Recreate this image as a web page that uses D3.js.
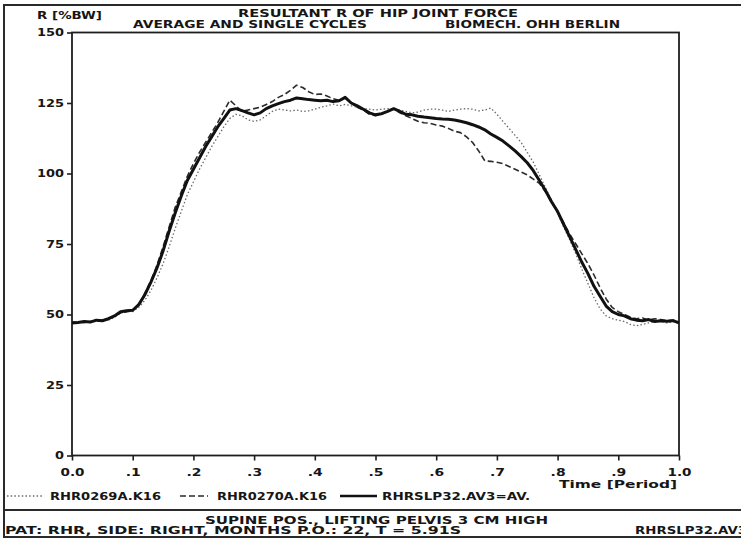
<!DOCTYPE html>
<html>
<head>
<meta charset="utf-8">
<script src="https://cdn.jsdelivr.net/npm/d3@7"></script>
<style>
    html, body { margin: 0; padding: 0; background: #fff; }
    svg { display: block; }
    text { font-family: "DejaVu Sans", sans-serif; font-weight: bold; fill: #161616; }
</style>
</head>
<body>
<svg id="chart" width="741" height="539"></svg>
<script>
// Tick values and labels
const xTicks = [0, 0.1, 0.2, 0.3, 0.4, 0.5, 0.6, 0.7, 0.8, 0.9, 1.0];
const xTickLabels = ['0.0', '.1', '.2', '.3', '.4', '.5', '.6', '.7', '.8', '.9', '1.0'];
const yTicks = [0, 25, 50, 75, 100, 125, 150];

// Time grid (fraction of the period), one value every 0.01
const time = d3.range(0, 101).map(i => i / 100);

// Single cycle RHR0269A.K16 (dotted)
const rhr0269 = [
    47.2, 47.5, 47.0, 47.5, 47.5, 48.0, 48.0, 49.0, 50.5, 51.0,
    51.0, 52.5, 55.0, 58.5, 63.0, 68.0, 74.0, 80.5, 86.5, 92.5,
    97.0, 101.5, 105.5, 109.5, 113.0, 116.5, 119.5, 121.0, 120.5, 119.0,
    118.5, 119.0, 120.5, 122.0, 122.8, 122.5, 122.2, 122.5, 122.0, 122.2,
    122.8, 123.5, 124.0, 124.6, 124.0, 124.5, 124.0, 123.5, 123.0, 122.8,
    122.5, 122.8, 123.0, 122.8, 122.5, 122.0, 121.5, 121.8, 122.5, 122.8,
    122.8, 122.5, 122.0, 122.5, 122.8, 123.0, 122.8, 122.2, 122.5, 123.2,
    121.0, 118.5, 116.0, 113.5, 111.0, 107.5, 104.0, 99.5, 95.0, 90.5,
    86.0, 81.0, 76.5, 71.5, 66.0, 61.0, 56.0, 52.0, 49.5, 48.5,
    48.0, 47.5, 46.5, 46.0, 46.5, 47.0, 47.5, 47.5, 47.0, 47.5,
    47.2
];

// Single cycle RHR0270A.K16 (dashed)
const rhr0270 = [
    47.5, 47.0, 47.3, 47.5, 47.8, 48.0, 48.3, 49.5, 50.5, 51.0,
    51.5, 53.5, 57.5, 62.0, 67.5, 74.0, 81.0, 88.0, 93.5, 99.0,
    103.5, 107.5, 111.0, 114.5, 118.0, 122.0, 126.0, 124.0, 122.0, 122.5,
    123.0, 123.5, 124.5, 125.5, 127.0, 128.0, 129.5, 131.3, 130.5, 129.0,
    128.0, 128.2, 127.5, 126.5, 126.0, 126.8, 125.0, 123.5, 122.5, 121.0,
    120.5, 121.0, 122.0, 123.0, 121.5, 120.5, 119.5, 118.5, 118.0, 117.8,
    117.2, 116.8, 116.0, 115.0, 114.5, 113.0, 111.0, 108.0, 104.5, 104.3,
    104.0, 103.5, 102.5, 101.5, 100.5, 99.5, 98.0, 96.5, 93.5, 90.0,
    86.5, 82.5, 78.5, 75.0, 71.5, 68.0, 64.0, 59.5, 55.5, 52.5,
    51.0, 50.0, 49.0, 48.5, 48.8, 48.0, 48.5, 48.2, 47.8, 48.0,
    47.5
];

// Average RHRSLP32.AV3 (thick solid)
const average = [
    47.0, 47.2, 47.5, 47.3, 48.0, 47.8, 48.5, 49.5, 51.0, 51.3,
    51.5, 53.5, 57.0, 61.5, 66.5, 72.5, 79.5, 86.0, 92.0, 97.5,
    101.5, 105.5, 109.5, 113.0, 116.5, 119.5, 122.5, 123.0, 122.3, 121.5,
    120.8, 121.5, 123.0, 124.0, 124.8, 125.5, 126.0, 126.8, 126.5, 126.2,
    126.0, 125.8, 126.0, 125.5, 125.8, 127.0, 125.0, 124.0, 122.8, 121.5,
    120.8, 121.2, 122.0, 123.0, 122.0, 121.0, 120.8, 120.3, 120.0, 119.8,
    119.5, 119.3, 119.2, 119.0, 118.5, 118.0, 117.3, 116.5, 115.5, 114.0,
    112.8, 111.5, 109.8, 108.0, 106.0, 103.8, 101.0, 97.5, 94.0, 90.0,
    86.5, 82.0, 77.5, 73.0, 68.5, 64.5, 60.0, 56.5, 53.0, 51.0,
    50.0, 49.5, 48.5, 48.0, 47.8, 48.2, 47.5, 47.8, 47.6, 47.8,
    47.0
];

const seriesNames = ['RHR0269A.K16', 'RHR0270A.K16', 'RHRSLP32.AV3=AV.'];

const svg = d3.select('#chart');

// plot area
const plot = { left: 72, right: 679, top: 32.5, bottom: 455.5 };

const x = d3.scaleLinear().domain([0, 1]).range([plot.left, plot.right]);
const y = d3.scaleLinear().domain([0, 150]).range([plot.bottom, plot.top]);

const fontSize = '10.5px';

// helper: bold text stretched to the width it has in the print-out
const label = (px, py, str, len, anchor = 'start') => svg.append('text')
    .attr('x', px)
    .attr('y', py)
    .attr('dy', '0.35em')
    .attr('text-anchor', anchor)
    .attr('textLength', len)
    .attr('lengthAdjust', 'spacingAndGlyphs')
    .style('font-size', fontSize)
    .text(str);

const charWidth = s => Array.from(s).reduce((w, c) => w + (c === '.' ? 6 : 9), 0);

// outer frame and footer separator
svg.append('path')
    .attr('d', 'M741,5 H4 V537 H741')
    .attr('fill', 'none')
    .attr('stroke', '#2a2a2a')
    .attr('stroke-width', 2);

svg.append('line')
    .attr('x1', 4).attr('x2', 741)
    .attr('y1', 510).attr('y2', 510)
    .attr('stroke', '#2a2a2a')
    .attr('stroke-width', 2);

// plot box
svg.append('rect')
    .attr('x', plot.left).attr('y', plot.top)
    .attr('width', plot.right - plot.left).attr('height', plot.bottom - plot.top)
    .attr('fill', 'none')
    .attr('stroke', '#1e1e1e')
    .attr('stroke-width', 1.8);

// axes
const yAxis = svg.append('g')
    .attr('transform', `translate(${plot.left},0)`)
    .call(d3.axisLeft(y).tickValues(yTicks).tickSize(5).tickPadding(3));

const xAxis = svg.append('g')
    .attr('transform', `translate(0,${plot.bottom})`)
    .call(d3.axisBottom(x).tickValues(xTicks).tickSize(5).tickPadding(8)
        .tickFormat((d, i) => xTickLabels[i]));

[xAxis, yAxis].forEach(g => {
    g.select('.domain').remove();
    g.selectAll('.tick line').attr('stroke', '#1e1e1e').attr('stroke-width', 1.6);
    g.selectAll('.tick text')
        .style('font-size', fontSize)
        .style('font-family', '"DejaVu Sans", sans-serif')
        .attr('fill', '#161616')
        .attr('textLength', function () { return charWidth(this.textContent); })
        .attr('lengthAdjust', 'spacingAndGlyphs');
});

// curves
const line = d3.line()
    .x((d, i) => x(time[i]))
    .y(d => y(d));

const styles = [
    { data: rhr0269, color: '#6a6a6a', width: 1.3, dash: '1.5,2.2' },
    { data: rhr0270, color: '#2b2b2b', width: 1.6, dash: '6,3' },
    { data: average, color: '#111', width: 3, dash: null }
];

svg.append('g')
    .selectAll('path')
    .data(styles)
    .join('path')
    .attr('d', d => line(d.data))
    .attr('fill', 'none')
    .attr('stroke', d => d.color)
    .attr('stroke-width', d => d.width)
    .attr('stroke-dasharray', d => d.dash)
    .attr('stroke-linejoin', 'round');

// header texts
label(37, 15, 'R [%BW]', 65);
label(238, 13, 'RESULTANT R OF HIP JOINT FORCE', 280);
label(133, 24, 'AVERAGE AND SINGLE CYCLES', 234);
label(445, 24, 'BIOMECH. OHH BERLIN', 175);

// x axis title
label(559, 484, 'Time [Period]', 118);

// legend
const legendY = 496;
const legendItems = [
    { x1: 7, x2: 42, tx: 50, len: 111 },
    { x1: 180, x2: 208, tx: 217, len: 110 },
    { x1: 340, x2: 377, tx: 382, len: 148 }
];
legendItems.forEach((item, i) => {
    svg.append('line')
        .attr('x1', item.x1).attr('x2', item.x2)
        .attr('y1', legendY).attr('y2', legendY)
        .attr('stroke', styles[i].color)
        .attr('stroke-width', i === 2 ? 2.4 : styles[i].width)
        .attr('stroke-dasharray', styles[i].dash);
    label(item.tx, legendY, seriesNames[i], item.len);
});

// footer
label(205, 520.5, 'SUPINE POS., LIFTING PELVIS 3 CM HIGH', 343);
label(5, 530.5, 'PAT: RHR, SIDE: RIGHT, MONTHS P.O.: 22, T = 5.91S', 456);
label(635, 530.5, 'RHRSLP32.AV3', 112);
</script>
</body>
</html>
